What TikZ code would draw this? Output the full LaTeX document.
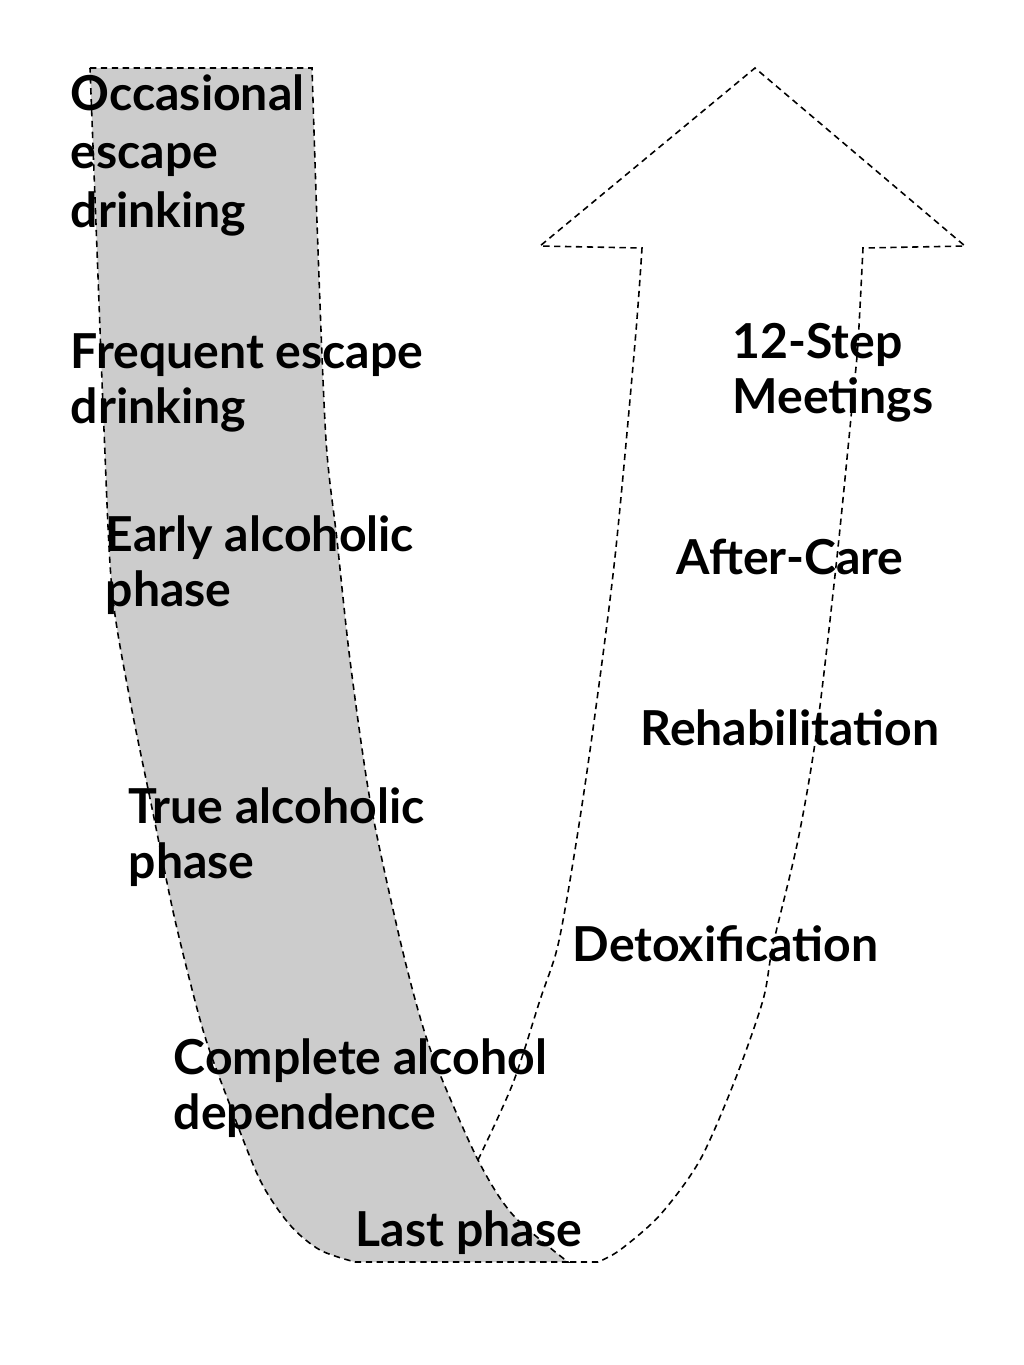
\documentclass[tikz,border=0pt]{standalone}
\usepackage{fontspec}
\setmainfont{Lato}
\begin{document}
\begin{tikzpicture}
  [x=0.01cm, y=-0.01cm,
  dashline/.style={line width=0.45pt, dash pattern=on 1.8pt off 1.3pt},
  band/.style={dashline, draw, fill=black!20},
  arm/.style={dashline, draw},
  lbl/.style={anchor=base west, inner sep=0pt, align=left,
    font=\fontsize{13.7}{15.6}\selectfont\bfseries}]
  \useasboundingbox (0,0) rectangle (1024,1365);
  % falling band
  \path[band] (90,68) -- (312,68)
    -- plot[smooth] coordinates {(312,68) (318,250) (326,440) (337,540) (350,660)
      (370,800) (397,927) (418,1010) (437,1067) (478,1160) (513,1215) (568,1262)}
    -- (355,1262)
    -- plot[smooth] coordinates {(355,1262) (320,1250) (290,1225) (260,1180)
      (228,1100) (203,1030) (175,920) (152,808) (130,700) (112,590)
      (104,430) (97,250) (90,68)}
    -- cycle;
  % rising arrow
  \path[arm] plot[smooth] coordinates {(478,1160) (513,1083) (540,1000)
      (558,945) (575,850) (593,729) (615,557) (635,343) (642,248)}
    -- (540,246) -- (755,68) -- (965,246) -- (863,248)
    -- plot[smooth] coordinates {(863,248) (858,343) (853,397) (837,557)
      (817,729) (798,840) (773,945) (763,1000) (735,1080) (700,1160)
      (660,1215) (620,1250) (598,1262)}
    -- (568,1262);
  % stages down (anchored at the last line)
  \node[lbl, font=\fontsize{13.7}{16.6}\selectfont\bfseries] (occasional) at (70,227)
    {Occasional\\escape\\drinking};
  \node[lbl] (frequent) at (70,423) {Frequent escape\\drinking};
  \node[lbl] (early) at (105,606) {Early alcoholic\\phase};
  \node[lbl] (true) at (128,878) {True alcoholic\\phase};
  \node[lbl] (complete) at (173,1129) {Complete alcohol\\dependence};
  \node[lbl] (last) at (355,1246) {Last phase};
  % stages up
  \node[lbl] (meetings) at (732,413) {12-Step\\Meetings};
  \node[lbl] (aftercare) at (676,574) {After-Care};
  \node[lbl] (rehab) at (640,745) {Rehabilitation};
  \node[lbl] (detox) at (572,961) {Detoxification};
\end{tikzpicture}
\end{document}
